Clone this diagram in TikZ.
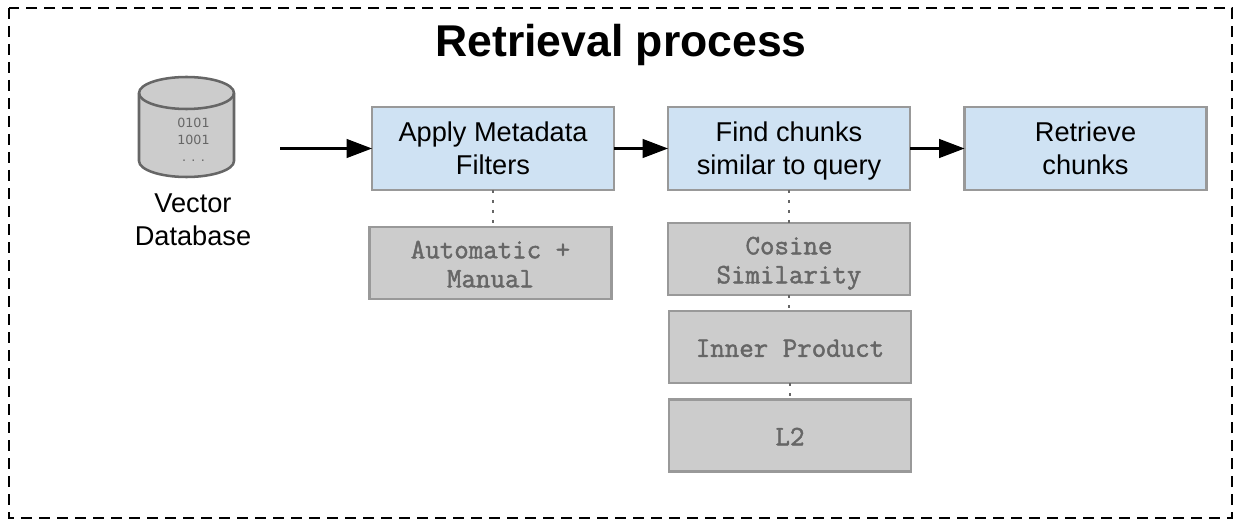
\documentclass[tikz,border=0pt]{standalone}
\usepackage{fontspec}
\setmainfont{Liberation Sans}
\newfontfamily\digitfont{DejaVu Sans}
\newfontfamily\slabmono[FakeBold=1.6]{Latin Modern Mono}
\usetikzlibrary{arrows.meta}
\definecolor{bluefill}{HTML}{CFE2F3}
\definecolor{grayfill}{HTML}{CCCCCC}
\definecolor{boxline}{HTML}{999999}
\definecolor{darktext}{HTML}{666666}
\newcommand{\bodystrut}{\rule[-7.4pt]{0pt}{29.2pt}}
\newcommand{\monostrut}{\rule[-6.5pt]{0pt}{27.7pt}}
\tikzset{
  x=0.75pt,y=-0.75pt,
  bodytext/.style={font=\fontsize{20.4}{24.75}\selectfont,text=black,align=center},
  basebox/.style={draw=boxline,line width=1.6pt,outer sep=0pt,inner sep=0pt,minimum width=181.5pt},
  bluebox/.style={basebox,fill=bluefill,minimum height=62pt,bodytext},
  graybox/.style={basebox,fill=grayfill,minimum height=54pt,text=darktext,align=center,
    font=\fontsize{21.1}{21.75}\selectfont\slabmono},
  flow/.style={line width=1.6pt,black,-{Triangle[length=19pt,width=14pt]},shorten >=0pt},
  dots/.style={draw=darktext,line width=1.6pt,dash pattern=on 2pt off 5.5pt},
}
\begin{document}
\begin{tikzpicture}
\useasboundingbox (0,0) rectangle (1240,528);
\draw[black,line width=1.9pt,dash pattern=on 8.5pt off 5pt] (9,8) rectangle (1232,518);
\node[font=\fontsize{33.4}{36}\selectfont\bfseries] (title) at (621,45) {Retrieval process};
% cylinder
\draw[draw=darktext,fill=grayfill,line width=1.9pt]
  (139,93) -- (139,161) arc[start angle=180,end angle=0,x radius=47.5,y radius=16]
  -- (234,93) arc[start angle=0,end angle=-180,x radius=47.5,y radius=16] -- cycle;
\draw[draw=darktext,line width=1.9pt]
  (139,93) arc[start angle=180,end angle=0,x radius=47.5,y radius=16];
\node[font=\fontsize{9.5}{12.75}\selectfont\digitfont,text=darktext,align=center,inner sep=0pt] (bits) at (193.5,139.5) {0101\\1001\\. . .};
\node[bodytext] (vdb) at (193,219) {\bodystrut Vector\\\strut Database};
\coordinate (start) at (280,148.5);
\node[bluebox] (filters) at (493,148.5) {\bodystrut Apply Metadata\\\strut Filters};
\node[bluebox] (find) at (789,148.5) {\bodystrut Find chunks\\\strut similar to query};
\node[bluebox] (retrieve) at (1085.5,148.5) {\bodystrut Retrieve\\\strut chunks};
\node[graybox] (auto) at (490.5,263) {\monostrut Automatic +\\\strut Manual};
\node[graybox] (cos) at (789,259) {\monostrut Cosine\\\strut Similarity};
\node[graybox] (inner) at (790,347) {\monostrut Inner Product};
\node[graybox] (ltwo) at (790,435.5) {\monostrut L2};
\draw[flow] (start) -- (start -| filters.west);
\draw[flow] (filters.east) -- (find.west);
\draw[flow] (find.east) -- (retrieve.west);
\draw[dots] (filters.south) -- (auto.north -| filters.south);
\draw[dots] (find.south) -- (cos.north);
\draw[dots] (cos.south) -- (cos.south |- inner.north);
\draw[dots] (inner.south) -- (ltwo.north);
\end{tikzpicture}
\end{document}
